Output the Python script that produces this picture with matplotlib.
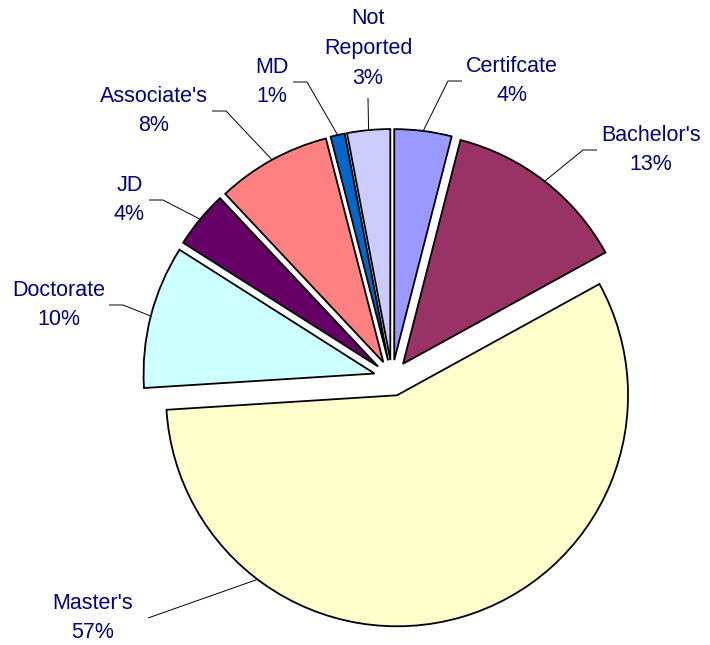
import numpy as np
import matplotlib
matplotlib.use("Agg")
import matplotlib.pyplot as plt

# datos del grafico (orden horario desde las 12)
categorias = ["Certifcate", "Bachelor's", "Master's", "Doctorate",
              "JD", "Associate's", "MD", "Not\nReported"]
porcentajes = [4, 13, 57, 10, 4, 8, 1, 3]
colores = ["#9999FF", "#993366", "#FFFFCC", "#CCFFFF",
           "#660066", "#FF8080", "#0066CC", "#CCCCFF"]

# posicion de las etiquetas en pixeles (x, y, lado del texto respecto al quiebre)
pos_etiquetas = [(466, 81, "left"), (601, 150, "left"), (133, 618, "right"),
                 (105, 305, "right"), (145, 200, "right"), (208, 111, "right"),
                 (289, 82, "right"), (368, 89, "top")]
# punto del arco donde sale la linea guia (0.5 = mitad de la porcion)
frac_guia = [0.5, 0.5, 0.76, 0.5, 0.5, 0.5, 0.5, 0.5]

W, H = 710, 645
fig = plt.figure(figsize=(W / 100, H / 100), dpi=100)
ax = fig.add_axes([0, 0, 1, 1])

radio = 231
centro = (392, -378)
separacion = 18

wedges, _ = ax.pie(porcentajes, colors=colores, startangle=90, counterclock=False,
                   radius=radio, center=centro, explode=[separacion] * len(porcentajes),
                   wedgeprops=dict(edgecolor="black", linewidth=1.3), frame=True)
ax.set_xlim(0, W)
ax.set_ylim(-H, 0)
ax.set_aspect("equal")
ax.axis("off")

color_texto = "#000080"
for w, cat, v, (tx, ty, lado), f in zip(wedges, categorias, porcentajes, pos_etiquetas, frac_guia):
    # theta1 < theta2; sentido horario => el inicio es theta2
    ang = np.deg2rad(w.theta2 - f * (w.theta2 - w.theta1))
    cx, cy = w.center
    x0 = cx + w.r * np.cos(ang)
    y0 = cy + w.r * np.sin(ang)
    if lado == "left":
        xs = [x0, tx - 18, tx - 4]
        ys = [y0, -ty, -ty]
        ha, va = "left", "center"
    elif lado == "right":
        if cat == "Master's":
            xs = [x0, tx + 15]
            ys = [y0, -ty]
        else:
            xs = [x0, tx + 18, tx + 4]
            ys = [y0, -ty, -ty]
        ha, va = "right", "center"
    else:
        xs = [x0, tx]
        ys = [y0, -(ty + 9)]
        ha, va = "center", "bottom"
    ax.plot(xs, ys, color="black", linewidth=0.7, solid_capstyle="butt")
    ax.text(tx, -ty, f"{cat}\n{v}%", ha=ha, va=va, multialignment="center",
            fontsize=15.5, color=color_texto, family="Liberation Sans",
            linespacing=1.55)

fig.savefig("out.png", dpi=100)
